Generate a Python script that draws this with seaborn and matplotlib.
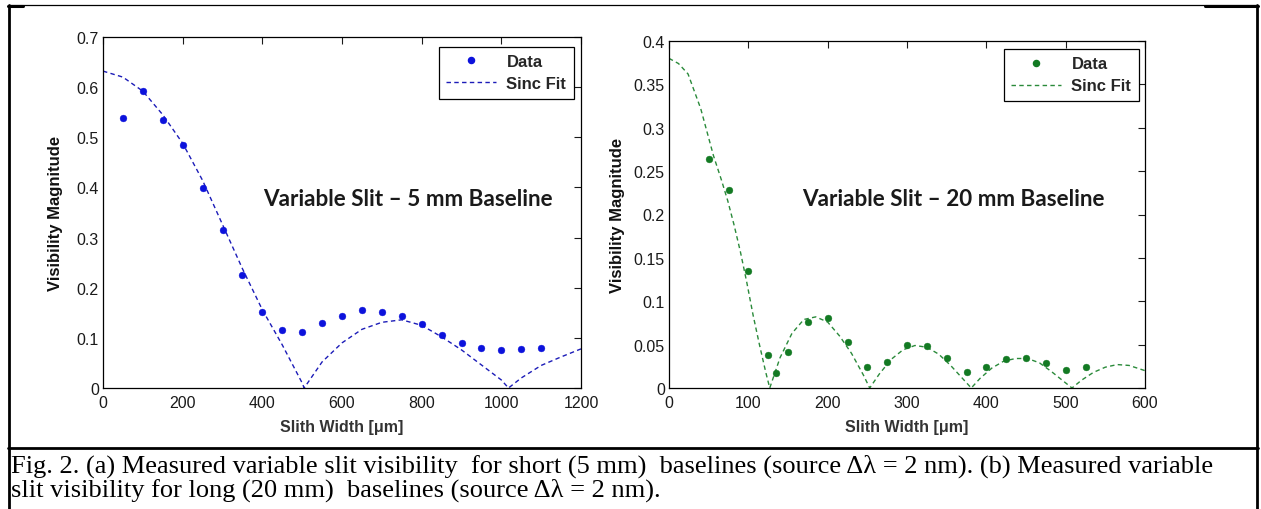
import numpy as np
import pandas as pd
import matplotlib
matplotlib.use("Agg")
import matplotlib.pyplot as plt
import seaborn as sns
from matplotlib.lines import Line2D

# ---------------- data ----------------
left_x = [50, 100, 150, 200, 250, 300, 350, 400, 450, 500, 550, 600, 650, 700,
          750, 800, 850, 900, 950, 1000, 1050, 1100]
left_y = [0.539, 0.593, 0.534, 0.485, 0.398, 0.315, 0.226, 0.152, 0.116, 0.111,
          0.129, 0.144, 0.156, 0.152, 0.144, 0.128, 0.105, 0.090, 0.080, 0.076,
          0.078, 0.080]
left_fit_x = [0, 50, 100, 150, 200, 250, 300, 350, 400, 450, 500, 505, 550, 600,
              650, 700, 750, 800, 850, 900, 950, 1000, 1018, 1050, 1100, 1150, 1200]
left_fit_y = [0.632, 0.620, 0.592, 0.545, 0.488, 0.414, 0.326, 0.238, 0.156, 0.086,
              0.010, 0.0, 0.052, 0.090, 0.117, 0.131, 0.136, 0.125, 0.102, 0.076,
              0.046, 0.016, 0.0, 0.020, 0.045, 0.062, 0.078]

right_x = [50, 75, 100, 125, 135, 150, 175, 200, 225, 250, 275, 300, 325, 350,
           375, 400, 425, 450, 475, 500, 525]
right_y = [0.264, 0.228, 0.135, 0.038, 0.017, 0.041, 0.076, 0.081, 0.053, 0.024,
           0.030, 0.050, 0.048, 0.035, 0.019, 0.024, 0.033, 0.035, 0.029, 0.021,
           0.024]
right_fit_x = [0, 12, 24, 40, 48, 56, 66, 74, 82, 90, 98, 106, 114, 122, 127, 140,
               155, 170, 185, 200, 215, 230, 245, 253, 265, 280, 295, 310, 325, 340,
               355, 370, 381, 392, 407, 422, 437, 452, 467, 482, 497, 508, 520, 535,
               550, 565, 580, 600]
right_fit_y = [0.380, 0.374, 0.362, 0.322, 0.295, 0.268, 0.240, 0.216, 0.188, 0.157,
               0.122, 0.084, 0.050, 0.018, 0.0, 0.035, 0.063, 0.079, 0.082, 0.076,
               0.060, 0.040, 0.015, 0.0, 0.016, 0.033, 0.044, 0.049, 0.047, 0.039,
               0.026, 0.011, 0.0, 0.011, 0.023, 0.031, 0.034, 0.034, 0.029, 0.019,
               0.008, 0.0, 0.009, 0.018, 0.024, 0.027, 0.026, 0.020]

left_xticks = [0, 200, 400, 600, 800, 1000, 1200]
left_yticks = [0, 0.1, 0.2, 0.3, 0.4, 0.5, 0.6, 0.7]
left_yticklabels = ["0", "0.1", "0.2", "0.3", "0.4", "0.5", "0.6", "0.7"]
right_xticks = [0, 100, 200, 300, 400, 500, 600]
right_yticks = [0, 0.05, 0.1, 0.15, 0.2, 0.25, 0.3, 0.35, 0.4]
right_yticklabels = ["0", "0.05", "0.1", "0.15", "0.2", "0.25", "0.3", "0.35", "0.4"]

xlabel = "Slith Width [\u03bcm]"
ylabel = "Visibility Magnitude"
left_note = "Variable Slit \u2013 5 mm Baseline"
right_note = "Variable Slit \u2013 20 mm Baseline"
caption1 = ("Fig. 2. (a) Measured variable slit visibility  for short (5 mm)  baselines "
            "(source \u0394\u03bb = 2 nm). (b) Measured variable")
caption2 = "slit visibility for long (20 mm)  baselines (source \u0394\u03bb = 2 nm)."

# ---------------- style ----------------
sns.set_style("white")
plt.rcParams["font.family"] = ["Liberation Sans", "DejaVu Sans"]

W, H = 1261, 510
fig = plt.figure(figsize=(W / 100, H / 100), dpi=100)
fig.patch.set_facecolor("white")


def px_axes(x0, x1, ytop, ybot):
    return fig.add_axes([x0 / W, 1 - ybot / H, (x1 - x0) / W, (ybot - ytop) / H])


axL = px_axes(103, 581, 38, 389)
axR = px_axes(669, 1145, 42, 389)

panels = [
    (axL, left_x, left_y, left_fit_x, left_fit_y, "#0c12dc", "#1c1cb8",
     (0, 1200), (0, 0.7), left_xticks, left_yticks, left_yticklabels, left_note, 263,
     (0.985, 0.972), -0.0837, -0.088),
    (axR, right_x, right_y, right_fit_x, right_fit_y, "#137a23", "#2a8a3a",
     (0, 600), (0, 0.4), right_xticks, right_yticks, right_yticklabels, right_note, 802,
     (0.987, 0.977), -0.0924, -0.089),
]

for (ax, dx, dy, fx, fy, cdot, cline, xl, yl, xt, yt, ytl, note, notex,
     legpos, ylx, xly) in panels:
    sns.lineplot(x=fx, y=fy, ax=ax, color=cline, linewidth=1.0, label="Sinc Fit",
                 sort=False, estimator=None)
    ax.lines[-1].set_dashes([3.2, 2.4])
    sns.scatterplot(x=dx, y=dy, ax=ax, color=cdot, s=24, edgecolor=cdot,
                    linewidth=0.3, label="Data", zorder=3)
    ax.set_xlim(*xl)
    ax.set_ylim(*yl)
    ax.set_xticks(xt)
    ax.set_xticklabels([str(v) for v in xt])
    ax.set_yticks(yt)
    ax.set_yticklabels(ytl)
    ax.tick_params(direction="in", top=True, right=True, length=5, width=0.8,
                   labelsize=11.5, colors="#1a1a1a")
    ax.tick_params(axis="x", pad=5)
    ax.tick_params(axis="y", pad=3)
    for sp in ax.spines.values():
        sp.set_visible(True)
        sp.set_color("black")
        sp.set_linewidth(0.9)
    ax.set_ylabel(ylabel, fontsize=12, fontweight="bold", color="#111111")
    ax.yaxis.set_label_coords(ylx, 0.5)
    ax.set_xlabel(xlabel, fontsize=11.5, fontweight="bold", color="#333333")
    ax.xaxis.set_label_coords(0.5, xly)

    dot_handle = Line2D([], [], linestyle="none", marker="o", markersize=4.4,
                        color=cdot)
    line_handle = Line2D([], [], color=cline, linewidth=1.0, dashes=[3.2, 2.4])
    leg = ax.legend([dot_handle, line_handle], ["Data", "Sinc Fit"],
                    loc="upper right", bbox_to_anchor=legpos, borderaxespad=0,
                    frameon=True, fancybox=False, shadow=False, handlelength=3.0,
                    handletextpad=0.6, borderpad=0.45, labelspacing=0.42,
                    prop={"family": "Liberation Sans", "weight": "bold", "size": 12})
    leg.get_frame().set_edgecolor("black")
    leg.get_frame().set_linewidth(0.9)
    leg.get_frame().set_alpha(1)

    fig.text(notex / W, 1 - 200 / H, note, fontsize=16.2, fontweight="bold",
             family=["Lato", "DejaVu Sans"], color="#1a1a1a", ha="left", va="center")

# ---------------- outer frame and caption ----------------
def hline(y, x0, x1, lw):
    fig.add_artist(Line2D([x0 / W, x1 / W], [1 - y / H, 1 - y / H], color="black",
                          linewidth=lw, transform=fig.transFigure))


def vline(x, y0, y1, lw):
    fig.add_artist(Line2D([x / W, x / W], [1 - y0 / H, 1 - y1 / H], color="black",
                          linewidth=lw, transform=fig.transFigure))


hline(6, 8, 1258, 0.9)
hline(6.8, 8, 23, 2.2)
hline(6.8, 1205, 1258, 2.2)
vline(9, 6, 510, 2.0)
vline(1257, 6, 510, 2.0)
hline(449, 8, 1258, 2.0)

fig.text(11 / W, 1 - 473 / H, caption1, fontsize=19, family=["Liberation Serif"],
         color="black", ha="left", va="baseline")
fig.text(11 / W, 1 - 497 / H, caption2, fontsize=19, family=["Liberation Serif"],
         color="black", ha="left", va="baseline")

fig.savefig("out.png", dpi=100)
